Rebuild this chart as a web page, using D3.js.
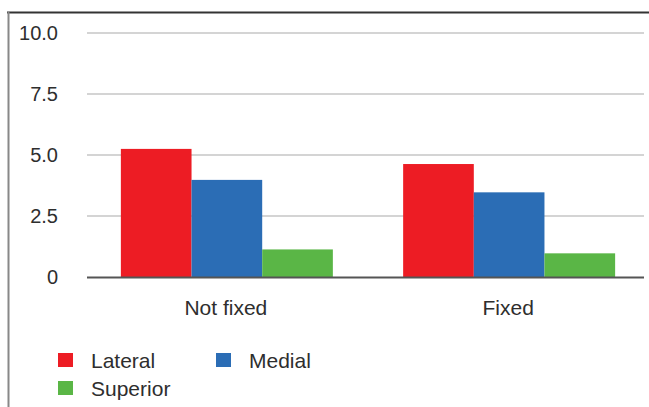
<!DOCTYPE html>
<html>
<head>
<meta charset="utf-8">
<script src="https://cdn.jsdelivr.net/npm/d3@7.9.0/dist/d3.min.js"></script>
<style>
  body { margin: 0; background: #fff; }
  svg { display: block; font-family: "Liberation Sans", Arial, sans-serif; }
</style>
</head>
<body>
<svg width="649" height="407"></svg>
<script>
// data
const categories = ["Not fixed", "Fixed"];
const seriesNames = ["Lateral", "Medial", "Superior"];
const lateral = [5.25, 4.63];
const medial = [3.98, 3.47];
const superior = [1.13, 0.97];
const yTicks = [0, 2.5, 5, 7.5, 10];
const yTickLabels = ["0", "2.5", "5.0", "7.5", "10.0"];

const colors = ["#ed1c24", "#2b6db5", "#5ab646"];
const values = [lateral, medial, superior];

const svg = d3.select("svg");

// frame: dark top edge, lighter left edge
svg.append("line")
    .attr("x1", 7).attr("x2", 660)
    .attr("y1", 12.5).attr("y2", 12.5)
    .attr("stroke", "#333")
    .attr("stroke-width", 2);
svg.append("line")
    .attr("x1", 8.5).attr("x2", 8.5)
    .attr("y1", 12).attr("y2", 420)
    .attr("stroke", "#888")
    .attr("stroke-width", 2);

const plotLeft = 87, plotRight = 644;

const y = d3.scaleLinear().domain([0, 10]).range([277, 33]);

const x0 = d3.scaleBand()
    .domain(categories)
    .range([87, 649])
    .paddingInner(0.249)
    .paddingOuter(0.12);

const x1 = d3.scaleBand()
    .domain(seriesNames)
    .range([0, x0.bandwidth()]);

// gridlines
svg.append("g")
  .selectAll("line")
  .data(yTicks.filter(d => d > 0))
  .join("line")
    .attr("x1", plotLeft)
    .attr("x2", plotRight)
    .attr("y1", d => y(d))
    .attr("y2", d => y(d))
    .attr("stroke", "#d4d4d4")
    .attr("stroke-width", 2);

// y tick labels
svg.append("g")
  .selectAll("text")
  .data(yTicks)
  .join("text")
    .attr("x", 58)
    .attr("y", d => y(d))
    .attr("dy", "0.36em")
    .attr("text-anchor", "end")
    .attr("font-size", 20)
    .attr("fill", "#2e2e2e")
    .text((d, i) => yTickLabels[i]);

// bars
const groups = svg.append("g")
  .selectAll("g")
  .data(categories)
  .join("g")
    .attr("transform", d => `translate(${x0(d)},0)`);

groups.selectAll("rect")
  .data((c, ci) => seriesNames.map((s, si) => ({ s, v: values[si][ci], si })))
  .join("rect")
    .attr("x", d => x1(d.s))
    .attr("width", x1.bandwidth())
    .attr("y", d => y(d.v))
    .attr("height", d => y(0) - y(d.v))
    .attr("fill", d => colors[d.si]);

// baseline
svg.append("line")
    .attr("x1", plotLeft)
    .attr("x2", plotRight)
    .attr("y1", y(0) + 0.5)
    .attr("y2", y(0) + 0.5)
    .attr("stroke", "#555")
    .attr("stroke-width", 2);

// category labels
svg.append("g")
  .selectAll("text")
  .data(categories)
  .join("text")
    .attr("x", d => x0(d) + x0.bandwidth() / 2 - 1)
    .attr("y", 315)
    .attr("text-anchor", "middle")
    .attr("font-size", 21)
    .attr("fill", "#2e2e2e")
    .text(d => d);

// legend
const legendPos = [[58, 360], [216, 360], [58, 388]];
const legend = svg.append("g")
  .selectAll("g")
  .data(seriesNames)
  .join("g")
    .attr("transform", (d, i) => `translate(${legendPos[i][0]},${legendPos[i][1]})`);

legend.append("rect")
    .attr("x", 0)
    .attr("y", -7)
    .attr("width", 15)
    .attr("height", 14)
    .attr("fill", (d, i) => colors[i]);

legend.append("text")
    .attr("x", 33)
    .attr("y", 0)
    .attr("dy", "0.36em")
    .attr("font-size", 21)
    .attr("fill", "#2e2e2e")
    .text(d => d);
</script>
</body>
</html>
